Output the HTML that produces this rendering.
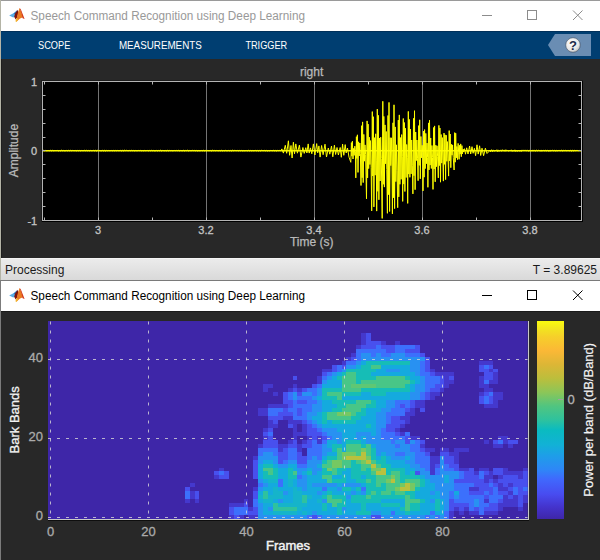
<!DOCTYPE html>
<html><head><meta charset="utf-8"><title>Speech Command Recognition using Deep Learning</title>
<style>
html,body{margin:0;padding:0;background:#282828;}
body{width:600px;height:560px;overflow:hidden;position:relative;font-family:"Liberation Sans", Arial, sans-serif;}
svg{position:absolute;left:0;top:0;display:block;}
text{font-family:"Liberation Sans", Arial, sans-serif;}
</style></head><body>
<svg width="600" height="560" viewBox="0 0 600 560">

<rect x="0" y="0" width="600" height="560" fill="#282828"/>
<rect x="0" y="0" width="600" height="1" fill="#9a9a9a"/>
<rect x="1" y="1" width="599" height="30" fill="#ffffff"/>
<polygon points="9.2,15.6 12.5,13.8 15.5,12.3 15.3,16.5 13.2,17.5" fill="#58aee6"/><polygon points="13.5,13.6 17.5,9.8 16.6,13.5 15.0,14.6" fill="#2a78c0"/><polygon points="14.2,16.8 15.0,13.8 17.6,10.0 18.6,12.5 17.2,17.5 15.6,19.6" fill="#7c1410"/><polygon points="19.6,8.1 21.5,12.5 23.0,17.2 20.0,18.5 16.4,21.7 17.0,16.5 18.3,11.5" fill="#e97a22"/><polygon points="15.4,21.2 16.4,18.0 18.2,19.3 16.6,22.0" fill="#f3b52c"/><polygon points="19.6,8.1 20.8,9.2 24.6,19.0 22.6,18.2 21.5,13.5" fill="#d3381b"/>
<text x="30.5" y="19.8" font-size="12" fill="#999999" textLength="274.5" lengthAdjust="spacingAndGlyphs">Speech Command Recognition using Deep Learning</text>
<g stroke="#8c8c8c" stroke-width="1" fill="none"><path d="M482 15.5H492"/><rect x="527.5" y="10.5" width="9" height="9"/><path d="M573 10.5L582.5 20M582.5 10.5L573 20"/></g>
<rect x="1" y="31" width="599" height="28" fill="#003e71"/>
<rect x="1" y="31" width="599" height="1" fill="#00305a"/>
<g fill="#ffffff" font-size="11"><text x="38" y="49.2" textLength="32.3" lengthAdjust="spacingAndGlyphs">SCOPE</text><text x="118.9" y="49.2" textLength="82.9" lengthAdjust="spacingAndGlyphs">MEASUREMENTS</text><text x="245.4" y="49.2" textLength="41.8" lengthAdjust="spacingAndGlyphs">TRIGGER</text></g>
<polygon points="548,45 555,34 591,34 591,56 555,56" fill="#6a8db3"/>
<defs><radialGradient id="hg" cx="0.4" cy="0.35" r="0.7"><stop offset="0" stop-color="#ffffff"/><stop offset="0.7" stop-color="#e6e6e6"/><stop offset="1" stop-color="#b8b8b8"/></radialGradient></defs>
<circle cx="573" cy="45" r="7.3" fill="url(#hg)" stroke="#3a4a60" stroke-width="0.6"/>
<text x="573" y="49.8" font-size="13" font-weight="bold" fill="#1c2b4a" text-anchor="middle">?</text>
<rect x="1" y="59" width="599" height="199" fill="#282828"/>
<rect x="41" y="80" width="542" height="142" fill="#1c1c1c"/>
<rect x="42" y="81" width="541" height="141" fill="#000000"/>
<g stroke="#747474" stroke-width="1"><path d="M98.5 82V220"/><path d="M206.5 82V220"/><path d="M314.5 82V220"/><path d="M422.5 82V220"/><path d="M530.5 82V220"/></g>
<path d="M42.5 150.7H581" stroke="#f0f000" stroke-width="1.4"/>
<path d="M42.5,150.7 43.4,150.3 44.3,150.8 45.2,150.3 46.1,151.0 47.0,150.3 47.9,150.9 48.8,150.5 49.7,150.8 50.6,150.3 51.5,150.9 52.4,150.3 53.3,150.8 54.2,150.5 55.1,150.8 56.0,150.2 56.9,150.8 57.8,150.4 58.7,151.0 59.6,150.5 60.5,150.9 61.4,150.2 62.3,150.8 63.2,150.3 64.1,151.0 65.0,150.4 65.9,150.9 66.8,150.3 67.7,150.9 68.6,150.3 69.5,150.8 70.4,150.3 71.3,150.8 72.2,150.3 73.1,150.8 74.0,150.2 74.9,150.9 75.8,150.4 76.7,150.9 77.6,150.4 78.5,150.8 79.4,150.4 80.3,150.9 81.2,150.4 82.1,150.8 83.0,150.3 83.9,150.8 84.8,150.2 85.7,150.8 86.6,150.3 87.5,150.8 88.4,150.4 89.3,150.9 90.2,150.3 91.1,150.8 92.0,150.5 92.9,150.7 93.8,150.3 94.7,150.9 95.6,150.3 96.5,151.0 97.4,150.3 98.3,150.7 99.2,150.4 100.1,150.9 101.0,150.4 101.9,151.0 102.8,150.2 103.7,151.0 104.6,150.3 105.5,151.0 106.4,150.4 107.3,150.8 108.2,150.4 109.1,150.9 110.0,150.3 110.9,150.8 111.8,150.4 112.7,150.8 113.6,150.4 114.5,150.8 115.4,150.4 116.3,150.8 117.2,150.3 118.1,150.9 119.0,150.3 119.9,150.8 120.8,150.3 121.7,151.0 122.6,150.3 123.5,150.9 124.4,150.2 125.3,150.7 126.2,150.2 127.1,150.8 128.0,150.3 128.9,150.9 129.8,150.3 130.7,150.8 131.6,150.3 132.5,150.7 133.4,150.4 134.3,150.9 135.2,150.4 136.1,150.9 137.0,150.3 137.9,150.9 138.8,150.3 139.7,150.7 140.6,150.4 141.5,150.8 142.4,150.5 143.3,150.9 144.2,150.3 145.1,151.0 146.0,150.2 146.9,150.8 147.8,150.4 148.7,150.9 149.6,150.4 150.5,150.8 151.4,150.3 152.3,150.8 153.2,150.3 154.1,151.0 155.0,150.5 155.9,150.9 156.8,150.3 157.7,151.0 158.6,150.4 159.5,150.8 160.4,150.2 161.3,151.0 162.2,150.4 163.1,150.8 164.0,150.3 164.9,151.0 165.8,150.4 166.7,150.9 167.6,150.3 168.5,150.9 169.4,150.4 170.3,150.7 171.2,150.4 172.1,150.9 173.0,150.5 173.9,150.7 174.8,150.4 175.7,150.7 176.6,150.4 177.5,150.7 178.4,150.3 179.3,150.9 180.2,150.4 181.1,150.8 182.0,150.4 182.9,150.9 183.8,150.2 184.7,151.0 185.6,150.4 186.5,150.7 187.4,150.2 188.3,151.0 189.2,150.4 190.1,150.9 191.0,150.2 191.9,150.9 192.8,150.2 193.7,150.7 194.6,150.4 195.5,150.8 196.4,150.4 197.3,151.0 198.2,150.5 199.1,150.9 200.0,150.5 200.9,150.8 201.8,150.4 202.7,150.8 203.6,150.3 204.5,150.9 205.4,150.4 206.3,150.9 207.2,150.4 208.1,150.8 209.0,150.4 209.9,150.8 210.8,150.4 211.7,151.0 212.6,150.2 213.5,150.7 214.4,150.4 215.3,150.8 216.2,150.4 217.1,150.8 218.0,150.3 218.9,151.0 219.8,150.4 220.7,150.9 221.6,150.3 222.5,150.9 223.4,150.5 224.3,150.9 225.2,150.2 226.1,150.9 227.0,150.4 227.9,150.9 228.8,150.3 229.7,150.9 230.6,150.4 231.5,151.0 232.4,150.2 233.3,150.8 234.2,150.3 235.1,150.7 236.0,150.2 236.9,150.9 237.8,150.3 238.7,150.9 239.6,150.4 240.5,150.8 241.4,150.4 242.3,150.9 243.2,150.5 244.1,151.0 245.0,150.4 245.9,150.8 246.8,150.5 247.7,150.9 248.6,150.3 249.5,150.9 250.4,150.4 251.3,150.9 252.2,150.4 253.1,151.0 254.0,150.3 254.9,150.8 255.8,150.3 256.7,150.9 257.6,150.4 258.5,151.0 259.4,150.4 260.3,151.0 261.2,150.2 262.1,150.7 263.0,150.3 263.9,150.8 264.8,150.3 265.7,150.9 266.6,150.4 267.5,151.0 268.4,150.5 269.3,150.9 270.2,150.4 271.1,150.7 272.0,150.3 272.9,150.9 273.8,150.2 274.7,150.9 275.6,150.4 276.5,151.0 277.4,150.4 278.3,150.7 279.2,150.3 280.1,150.8 281.0,150.4 281.9,148.9 283.4,153.1 285.3,145.3 286.7,153.3 288.4,140.8 289.6,155.3 291.0,145.5 292.1,158.0 293.4,142.2 294.5,153.8 295.8,143.9 297.4,153.2 299.4,145.1 300.9,157.1 302.9,147.5 304.2,153.4 305.8,147.7 306.9,153.0 308.2,143.9 309.2,153.1 310.5,147.9 311.8,153.8 313.4,143.9 314.9,155.0 316.7,143.6 317.7,152.9 318.9,145.9 320.1,157.1 321.6,145.5 323.1,154.7 325.0,144.2 326.5,157.0 328.3,148.0 329.8,154.2 331.5,146.0 332.8,156.8 334.4,145.2 335.6,154.5 337.0,147.5 338.4,155.0 340.2,147.5 341.3,157.3 342.6,144.1 343.8,155.3 345.2,144.6 346.2,153.0 347.5,148.0 349.0,157.1 350.8,162.3 351.4,142.6 351.9,156.2 352.4,141.2 353.0,159.0 353.6,148.4 354.2,155.4 354.8,146.2 355.4,151.7 355.8,177.9 356.4,136.7 356.9,158.4 357.4,134.8 358.0,172.4 358.6,141.8 359.2,156.0 359.8,143.0 360.4,153.8 361.0,185.5 361.6,125.7 362.1,177.7 362.6,121.9 363.2,182.6 363.8,134.4 364.4,161.2 365.0,144.9 365.6,154.7 366.5,198.8 367.1,120.9 367.6,177.9 368.1,124.1 368.7,168.6 369.3,137.2 369.9,164.5 370.5,140.6 371.1,167.4 371.7,210.9 372.3,111.6 372.8,176.0 373.3,116.7 373.9,206.9 374.5,137.7 375.1,175.2 375.7,133.8 376.3,160.1 376.7,211.1 377.3,109.1 377.8,191.3 378.3,115.3 378.9,199.8 379.5,138.0 380.1,181.0 380.7,137.2 381.3,158.5 382.2,218.4 382.8,101.3 383.3,184.3 383.8,116.4 384.4,187.1 385.0,124.9 385.6,163.8 386.2,131.5 386.8,169.6 387.4,213.3 388.0,115.5 388.5,194.6 389.0,102.4 389.6,211.5 390.2,137.7 390.8,165.6 391.4,137.8 392.0,164.2 392.4,213.9 393.0,122.8 393.5,197.7 394.0,104.8 394.6,208.6 395.2,126.9 395.8,181.6 396.4,144.8 397.0,170.4 397.7,207.7 398.3,120.1 398.8,196.9 399.3,114.9 399.9,184.3 400.5,137.6 401.1,179.3 401.7,134.6 402.3,156.4 402.7,201.4 403.3,118.5 403.8,184.1 404.3,122.5 404.9,191.5 405.5,128.3 406.1,177.5 406.7,144.5 407.3,157.4 407.7,203.4 408.3,111.4 408.8,174.1 409.3,119.4 409.9,177.3 410.5,129.1 411.1,173.9 411.7,140.0 412.3,165.2 412.9,193.9 413.5,118.4 414.0,175.7 414.5,110.7 415.1,189.7 415.7,132.0 416.3,160.6 416.9,140.0 417.5,158.2 418.1,180.7 418.7,125.6 419.2,165.4 419.7,119.8 420.3,178.8 420.9,136.5 421.5,157.8 422.1,145.3 422.7,152.9 423.0,190.9 423.6,131.1 424.1,177.2 424.6,129.6 425.2,168.6 425.8,133.4 426.4,163.7 427.0,143.1 427.6,157.4 427.9,187.3 428.5,122.9 429.0,169.9 429.5,120.2 430.1,165.1 430.7,138.0 431.3,168.5 431.9,145.5 432.5,157.6 433.0,189.4 433.6,127.5 434.1,169.0 434.6,125.9 435.2,181.8 435.8,145.2 436.4,166.7 437.0,145.8 437.6,156.3 438.3,177.9 438.9,125.4 439.4,165.6 439.9,128.0 440.5,182.2 441.1,134.5 441.7,163.1 442.3,137.6 442.9,160.8 443.4,181.1 444.0,133.1 444.5,164.3 445.0,134.8 445.6,179.6 446.2,135.2 446.8,161.3 447.4,141.6 448.0,158.1 448.6,176.1 449.2,130.6 449.7,160.9 450.2,134.0 450.8,167.7 451.4,144.3 452.0,155.2 452.6,144.9 453.2,157.5 454.1,170.0 454.7,132.6 455.2,162.2 455.7,133.2 456.3,157.9 456.9,146.5 457.5,159.6 458.1,143.4 458.7,152.1 459.1,159.3 459.7,145.2 460.2,154.1 460.7,143.9 461.3,156.7 461.9,145.6 462.5,153.9 463.1,149.1 463.7,152.0 464.5,148.7 465.5,154.2 466.7,147.8 468.0,154.0 469.6,146.0 470.7,154.0 472.0,146.7 473.1,153.3 474.4,148.3 475.6,155.7 477.0,144.8 478.2,154.1 479.6,145.8 480.7,155.5 482.0,148.2 483.6,155.7 485.4,148.2 487.0,153.5 488.8,151.6 489.7,150.0 490.6,151.7 491.5,149.7 492.4,151.6 493.3,149.9 494.2,151.4 495.1,150.1 496.0,151.2 496.9,149.7 497.8,151.7 498.7,150.2 499.6,151.0 500.5,150.2 501.4,151.3 502.3,149.7 503.2,151.1 504.1,149.9 505.0,151.3 505.9,149.7 506.8,151.0 507.7,150.3 508.6,151.3 509.5,150.1 510.4,151.1 511.3,149.8 512.2,151.4 513.1,150.3 514.0,151.3 514.9,149.8 515.8,151.5 516.7,150.3 517.6,151.4 518.5,150.3 519.4,151.3 520.3,150.0 521.2,151.5 522.1,149.9 523.0,150.9 523.9,149.9 524.8,151.0 525.7,149.9 526.6,150.9 527.5,150.2 528.4,151.2 529.3,150.3 530.2,151.2 531.1,150.0 532.0,151.2 532.9,149.9 533.8,151.1 534.7,150.3 535.6,151.0 536.5,150.2 537.4,150.9 538.3,150.0 539.2,150.9 540.1,150.3 541.0,151.3 541.9,150.0 542.8,150.9 543.7,150.2 544.6,151.2 545.5,150.1 546.4,150.9 547.3,150.2 548.2,151.2 549.1,150.4 550.0,151.3 550.9,150.1 551.8,150.9 552.7,150.0 553.6,150.8 554.5,150.2 555.4,151.1 556.3,150.3 557.2,151.2 558.1,150.1 559.0,150.9 559.9,150.3 560.8,150.8 561.7,150.2 562.6,150.9 563.5,150.2 564.4,151.1 565.3,150.1 566.2,150.8 567.1,150.3 568.0,150.9 568.9,150.3 569.8,150.9 570.7,150.3 571.6,151.1 572.5,150.3 573.4,150.9 574.3,150.3 575.2,150.8 576.1,150.2 577.0,150.9 577.9,150.1 578.8,151.0 579.7,150.4 580.6,150.8" fill="none" stroke="#ffff00" stroke-width="1" stroke-linejoin="round"/>
<rect x="42.5" y="81.5" width="539" height="139" fill="none" stroke="#b4b4b4" stroke-width="1"/>
<path d="M44.5 81.5V84.5M44.5 220.5V217.5M98.5 81.5V84.5M98.5 220.5V217.5M152.5 81.5V84.5M152.5 220.5V217.5M206.5 81.5V84.5M206.5 220.5V217.5M260.5 81.5V84.5M260.5 220.5V217.5M314.5 81.5V84.5M314.5 220.5V217.5M368.5 81.5V84.5M368.5 220.5V217.5M422.5 81.5V84.5M422.5 220.5V217.5M476.5 81.5V84.5M476.5 220.5V217.5M530.5 81.5V84.5M530.5 220.5V217.5M42.5 81.5H45.5M581.5 81.5H578.5M42.5 95.5H45.5M581.5 95.5H578.5M42.5 109.5H45.5M581.5 109.5H578.5M42.5 123.5H45.5M581.5 123.5H578.5M42.5 137.5H45.5M581.5 137.5H578.5M42.5 150.5H45.5M581.5 150.5H578.5M42.5 164.5H45.5M581.5 164.5H578.5M42.5 178.5H45.5M581.5 178.5H578.5M42.5 192.5H45.5M581.5 192.5H578.5M42.5 206.5H45.5M581.5 206.5H578.5M42.5 220.5H45.5M581.5 220.5H578.5" stroke="#b4b4b4" stroke-width="1" fill="none"/>
<g fill="#c4c4c4" font-size="11" stroke="#c4c4c4" stroke-width="0.3"><text x="37.2" y="85.5" text-anchor="end">1</text><text x="37.2" y="155" text-anchor="end">0</text><text x="37.2" y="224.5" text-anchor="end">-1</text><text x="98" y="234.2" text-anchor="middle">3</text><text x="206" y="234.2" text-anchor="middle">3.2</text><text x="314" y="234.2" text-anchor="middle">3.4</text><text x="422" y="234.2" text-anchor="middle">3.6</text><text x="530" y="234.2" text-anchor="middle">3.8</text></g>
<text x="311.7" y="246.3" font-size="12" fill="#bababa" stroke="#bababa" stroke-width="0.25" text-anchor="middle">Time (s)</text>
<text x="311.6" y="75.5" font-size="12" fill="#bababa" stroke="#bababa" stroke-width="0.25" text-anchor="middle">right</text>
<text transform="translate(17.8,150.6) rotate(-90)" font-size="12" fill="#bababa" stroke="#bababa" stroke-width="0.25" text-anchor="middle">Amplitude</text>
<defs><linearGradient id="sb" x1="0" y1="0" x2="0" y2="1"><stop offset="0" stop-color="#ececec"/><stop offset="1" stop-color="#d9d9d9"/></linearGradient></defs>
<rect x="1" y="258" width="599" height="22" fill="url(#sb)"/>
<rect x="1" y="258" width="599" height="1" fill="#f4f4f4"/>
<rect x="1" y="280" width="599" height="1" fill="#7a7a7a"/>
<text x="5" y="274" font-size="12" fill="#1a1a1a">Processing</text>
<text x="597" y="274" font-size="12" fill="#1a1a1a" text-anchor="end">T = 3.89625</text>
<rect x="1" y="281" width="599" height="30" fill="#ffffff"/>
<polygon points="9.2,295.6 12.5,293.8 15.5,292.3 15.3,296.5 13.2,297.5" fill="#58aee6"/><polygon points="13.5,293.6 17.5,289.8 16.6,293.5 15.0,294.6" fill="#2a78c0"/><polygon points="14.2,296.8 15.0,293.8 17.6,290.0 18.6,292.5 17.2,297.5 15.6,299.6" fill="#7c1410"/><polygon points="19.6,288.1 21.5,292.5 23.0,297.2 20.0,298.5 16.4,301.7 17.0,296.5 18.3,291.5" fill="#e97a22"/><polygon points="15.4,301.2 16.4,298.0 18.2,299.3 16.6,302.0" fill="#f3b52c"/><polygon points="19.6,288.1 20.8,289.2 24.6,299.0 22.6,298.2 21.5,293.5" fill="#d3381b"/>
<text x="30.5" y="299.8" font-size="12" fill="#000000" textLength="274.5" lengthAdjust="spacingAndGlyphs">Speech Command Recognition using Deep Learning</text>
<g stroke="#000000" stroke-width="1" fill="none"><path d="M482 295.5H492"/><rect x="527.5" y="290.5" width="9" height="9"/><path d="M573 290.5L582.5 300M582.5 290.5L573 300"/></g>
<rect x="1" y="311" width="599" height="1" fill="#1a1a1a"/>
<svg x="47.55" y="321" width="480.2" height="198" viewBox="0 0 98 50" preserveAspectRatio="none" shape-rendering="crispEdges"><rect x="0" y="0" width="98" height="50" fill="#3e26a8"/><rect x="37" y="49" width="1" height="1" fill="#4438cd"/><rect x="38" y="49" width="1" height="1" fill="#4850ee"/><rect x="39" y="49" width="1" height="1" fill="#4438cd"/><rect x="41" y="49" width="2" height="1" fill="#4438cd"/><rect x="43" y="49" width="10" height="1" fill="#2891f2"/><rect x="53" y="49" width="1" height="1" fill="#3c70fc"/><rect x="54" y="49" width="1" height="1" fill="#4850ee"/><rect x="55" y="49" width="1" height="1" fill="#3c70fc"/><rect x="56" y="49" width="10" height="1" fill="#2891f2"/><rect x="66" y="49" width="2" height="1" fill="#4850ee"/><rect x="68" y="49" width="9" height="1" fill="#2891f2"/><rect x="77" y="49" width="1" height="1" fill="#3c70fc"/><rect x="78" y="49" width="1" height="1" fill="#2891f2"/><rect x="79" y="49" width="1" height="1" fill="#3c70fc"/><rect x="80" y="49" width="1" height="1" fill="#2891f2"/><rect x="81" y="49" width="1" height="1" fill="#3c70fc"/><rect x="82" y="49" width="1" height="1" fill="#4438cd"/><rect x="37" y="48" width="1" height="1" fill="#4850ee"/><rect x="38" y="48" width="3" height="1" fill="#3c70fc"/><rect x="41" y="48" width="2" height="1" fill="#4850ee"/><rect x="43" y="48" width="1" height="1" fill="#2891f2"/><rect x="44" y="48" width="2" height="1" fill="#14aade"/><rect x="46" y="48" width="5" height="1" fill="#15b4ca"/><rect x="51" y="48" width="1" height="1" fill="#14aade"/><rect x="52" y="48" width="1" height="1" fill="#15b4ca"/><rect x="53" y="48" width="1" height="1" fill="#14aade"/><rect x="54" y="48" width="1" height="1" fill="#2891f2"/><rect x="55" y="48" width="4" height="1" fill="#14aade"/><rect x="59" y="48" width="1" height="1" fill="#16bdb6"/><rect x="60" y="48" width="3" height="1" fill="#14aade"/><rect x="63" y="48" width="3" height="1" fill="#16bdb6"/><rect x="66" y="48" width="2" height="1" fill="#2891f2"/><rect x="68" y="48" width="2" height="1" fill="#14aade"/><rect x="70" y="48" width="1" height="1" fill="#3c70fc"/><rect x="71" y="48" width="2" height="1" fill="#14aade"/><rect x="73" y="48" width="1" height="1" fill="#16bdb6"/><rect x="74" y="48" width="4" height="1" fill="#14aade"/><rect x="78" y="48" width="1" height="1" fill="#3c70fc"/><rect x="79" y="48" width="2" height="1" fill="#14aade"/><rect x="81" y="48" width="1" height="1" fill="#3c70fc"/><rect x="82" y="48" width="1" height="1" fill="#4438cd"/><rect x="84" y="48" width="1" height="1" fill="#4438cd"/><rect x="86" y="48" width="2" height="1" fill="#4438cd"/><rect x="88" y="48" width="1" height="1" fill="#3c70fc"/><rect x="89" y="48" width="3" height="1" fill="#4438cd"/><rect x="37" y="47" width="1" height="1" fill="#4850ee"/><rect x="38" y="47" width="3" height="1" fill="#3c70fc"/><rect x="41" y="47" width="1" height="1" fill="#4438cd"/><rect x="42" y="47" width="1" height="1" fill="#4850ee"/><rect x="43" y="47" width="1" height="1" fill="#2891f2"/><rect x="44" y="47" width="1" height="1" fill="#14aade"/><rect x="45" y="47" width="1" height="1" fill="#2891f2"/><rect x="46" y="47" width="5" height="1" fill="#2fc29e"/><rect x="51" y="47" width="1" height="1" fill="#15b4ca"/><rect x="52" y="47" width="4" height="1" fill="#14aade"/><rect x="56" y="47" width="1" height="1" fill="#16bdb6"/><rect x="57" y="47" width="2" height="1" fill="#14aade"/><rect x="59" y="47" width="1" height="1" fill="#16bdb6"/><rect x="60" y="47" width="1" height="1" fill="#2891f2"/><rect x="61" y="47" width="3" height="1" fill="#14aade"/><rect x="64" y="47" width="1" height="1" fill="#16bdb6"/><rect x="65" y="47" width="7" height="1" fill="#14aade"/><rect x="72" y="47" width="1" height="1" fill="#16bdb6"/><rect x="73" y="47" width="1" height="1" fill="#48c687"/><rect x="74" y="47" width="2" height="1" fill="#16bdb6"/><rect x="76" y="47" width="3" height="1" fill="#14aade"/><rect x="79" y="47" width="1" height="1" fill="#16bdb6"/><rect x="80" y="47" width="1" height="1" fill="#14aade"/><rect x="81" y="47" width="1" height="1" fill="#2891f2"/><rect x="82" y="47" width="1" height="1" fill="#4850ee"/><rect x="83" y="47" width="1" height="1" fill="#4438cd"/><rect x="84" y="47" width="1" height="1" fill="#4850ee"/><rect x="85" y="47" width="1" height="1" fill="#4438cd"/><rect x="86" y="47" width="1" height="1" fill="#3c70fc"/><rect x="87" y="47" width="1" height="1" fill="#4850ee"/><rect x="88" y="47" width="1" height="1" fill="#3c70fc"/><rect x="89" y="47" width="3" height="1" fill="#4850ee"/><rect x="92" y="47" width="1" height="1" fill="#4438cd"/><rect x="96" y="47" width="1" height="1" fill="#4438cd"/><rect x="37" y="46" width="3" height="1" fill="#4438cd"/><rect x="40" y="46" width="1" height="1" fill="#4850ee"/><rect x="42" y="46" width="1" height="1" fill="#3c70fc"/><rect x="43" y="46" width="1" height="1" fill="#2891f2"/><rect x="44" y="46" width="2" height="1" fill="#14aade"/><rect x="46" y="46" width="1" height="1" fill="#2fc29e"/><rect x="47" y="46" width="6" height="1" fill="#15b4ca"/><rect x="53" y="46" width="3" height="1" fill="#14aade"/><rect x="56" y="46" width="1" height="1" fill="#16bdb6"/><rect x="57" y="46" width="1" height="1" fill="#14aade"/><rect x="58" y="46" width="1" height="1" fill="#48c687"/><rect x="59" y="46" width="2" height="1" fill="#16bdb6"/><rect x="61" y="46" width="3" height="1" fill="#14aade"/><rect x="64" y="46" width="1" height="1" fill="#16bdb6"/><rect x="65" y="46" width="3" height="1" fill="#14aade"/><rect x="68" y="46" width="4" height="1" fill="#16bdb6"/><rect x="72" y="46" width="1" height="1" fill="#14aade"/><rect x="73" y="46" width="1" height="1" fill="#48c687"/><rect x="74" y="46" width="2" height="1" fill="#16bdb6"/><rect x="76" y="46" width="3" height="1" fill="#14aade"/><rect x="79" y="46" width="1" height="1" fill="#16bdb6"/><rect x="80" y="46" width="1" height="1" fill="#14aade"/><rect x="81" y="46" width="1" height="1" fill="#2891f2"/><rect x="82" y="46" width="4" height="1" fill="#4850ee"/><rect x="86" y="46" width="1" height="1" fill="#3c70fc"/><rect x="87" y="46" width="1" height="1" fill="#2891f2"/><rect x="88" y="46" width="2" height="1" fill="#3c70fc"/><rect x="90" y="46" width="2" height="1" fill="#4850ee"/><rect x="92" y="46" width="4" height="1" fill="#4438cd"/><rect x="96" y="46" width="1" height="1" fill="#4850ee"/><rect x="28" y="45" width="1" height="1" fill="#4438cd"/><rect x="30" y="45" width="1" height="1" fill="#4438cd"/><rect x="40" y="45" width="1" height="1" fill="#4438cd"/><rect x="42" y="45" width="1" height="1" fill="#3c70fc"/><rect x="43" y="45" width="1" height="1" fill="#14aade"/><rect x="44" y="45" width="2" height="1" fill="#15b4ca"/><rect x="46" y="45" width="1" height="1" fill="#14aade"/><rect x="47" y="45" width="1" height="1" fill="#2891f2"/><rect x="48" y="45" width="2" height="1" fill="#14aade"/><rect x="50" y="45" width="2" height="1" fill="#15b4ca"/><rect x="52" y="45" width="1" height="1" fill="#2fc29e"/><rect x="53" y="45" width="2" height="1" fill="#14aade"/><rect x="55" y="45" width="1" height="1" fill="#15b4ca"/><rect x="56" y="45" width="1" height="1" fill="#2891f2"/><rect x="57" y="45" width="3" height="1" fill="#48c687"/><rect x="60" y="45" width="1" height="1" fill="#16bdb6"/><rect x="61" y="45" width="1" height="1" fill="#14aade"/><rect x="62" y="45" width="6" height="1" fill="#16bdb6"/><rect x="68" y="45" width="5" height="1" fill="#14aade"/><rect x="73" y="45" width="3" height="1" fill="#48c687"/><rect x="76" y="45" width="1" height="1" fill="#16bdb6"/><rect x="77" y="45" width="1" height="1" fill="#14aade"/><rect x="78" y="45" width="1" height="1" fill="#2891f2"/><rect x="79" y="45" width="1" height="1" fill="#16bdb6"/><rect x="80" y="45" width="1" height="1" fill="#14aade"/><rect x="81" y="45" width="1" height="1" fill="#2891f2"/><rect x="82" y="45" width="1" height="1" fill="#4850ee"/><rect x="83" y="45" width="4" height="1" fill="#3c70fc"/><rect x="87" y="45" width="1" height="1" fill="#2891f2"/><rect x="88" y="45" width="1" height="1" fill="#3c70fc"/><rect x="89" y="45" width="1" height="1" fill="#4438cd"/><rect x="90" y="45" width="2" height="1" fill="#3c70fc"/><rect x="92" y="45" width="1" height="1" fill="#4850ee"/><rect x="93" y="45" width="3" height="1" fill="#4438cd"/><rect x="96" y="45" width="1" height="1" fill="#4850ee"/><rect x="97" y="45" width="1" height="1" fill="#4438cd"/><rect x="28" y="44" width="1" height="1" fill="#3c70fc"/><rect x="29" y="44" width="1" height="1" fill="#4438cd"/><rect x="30" y="44" width="1" height="1" fill="#4850ee"/><rect x="42" y="44" width="1" height="1" fill="#4850ee"/><rect x="43" y="44" width="1" height="1" fill="#15b4ca"/><rect x="44" y="44" width="1" height="1" fill="#2fc29e"/><rect x="45" y="44" width="3" height="1" fill="#15b4ca"/><rect x="48" y="44" width="2" height="1" fill="#14aade"/><rect x="50" y="44" width="2" height="1" fill="#15b4ca"/><rect x="52" y="44" width="1" height="1" fill="#2fc29e"/><rect x="53" y="44" width="1" height="1" fill="#15b4ca"/><rect x="54" y="44" width="2" height="1" fill="#14aade"/><rect x="56" y="44" width="1" height="1" fill="#16bdb6"/><rect x="57" y="44" width="1" height="1" fill="#48c687"/><rect x="58" y="44" width="3" height="1" fill="#16bdb6"/><rect x="61" y="44" width="1" height="1" fill="#2891f2"/><rect x="62" y="44" width="3" height="1" fill="#16bdb6"/><rect x="65" y="44" width="1" height="1" fill="#48c687"/><rect x="66" y="44" width="7" height="1" fill="#16bdb6"/><rect x="73" y="44" width="1" height="1" fill="#48c687"/><rect x="74" y="44" width="1" height="1" fill="#16bdb6"/><rect x="75" y="44" width="5" height="1" fill="#14aade"/><rect x="80" y="44" width="2" height="1" fill="#2891f2"/><rect x="82" y="44" width="1" height="1" fill="#3c70fc"/><rect x="83" y="44" width="1" height="1" fill="#2891f2"/><rect x="84" y="44" width="5" height="1" fill="#3c70fc"/><rect x="89" y="44" width="1" height="1" fill="#4850ee"/><rect x="90" y="44" width="3" height="1" fill="#3c70fc"/><rect x="93" y="44" width="1" height="1" fill="#4438cd"/><rect x="94" y="44" width="1" height="1" fill="#4850ee"/><rect x="95" y="44" width="1" height="1" fill="#4438cd"/><rect x="96" y="44" width="1" height="1" fill="#4850ee"/><rect x="97" y="44" width="1" height="1" fill="#4438cd"/><rect x="28" y="43" width="1" height="1" fill="#3c70fc"/><rect x="29" y="43" width="1" height="1" fill="#4438cd"/><rect x="30" y="43" width="1" height="1" fill="#4850ee"/><rect x="42" y="43" width="1" height="1" fill="#4850ee"/><rect x="43" y="43" width="1" height="1" fill="#14aade"/><rect x="44" y="43" width="1" height="1" fill="#2fc29e"/><rect x="45" y="43" width="1" height="1" fill="#14aade"/><rect x="46" y="43" width="2" height="1" fill="#15b4ca"/><rect x="48" y="43" width="1" height="1" fill="#2891f2"/><rect x="49" y="43" width="1" height="1" fill="#14aade"/><rect x="50" y="43" width="2" height="1" fill="#15b4ca"/><rect x="52" y="43" width="3" height="1" fill="#14aade"/><rect x="55" y="43" width="1" height="1" fill="#2891f2"/><rect x="56" y="43" width="1" height="1" fill="#14aade"/><rect x="57" y="43" width="1" height="1" fill="#16bdb6"/><rect x="58" y="43" width="4" height="1" fill="#14aade"/><rect x="62" y="43" width="1" height="1" fill="#2891f2"/><rect x="63" y="43" width="1" height="1" fill="#14aade"/><rect x="64" y="43" width="1" height="1" fill="#2891f2"/><rect x="65" y="43" width="1" height="1" fill="#16bdb6"/><rect x="66" y="43" width="1" height="1" fill="#48c687"/><rect x="67" y="43" width="1" height="1" fill="#16bdb6"/><rect x="68" y="43" width="2" height="1" fill="#48c687"/><rect x="70" y="43" width="1" height="1" fill="#16bdb6"/><rect x="71" y="43" width="2" height="1" fill="#48c687"/><rect x="73" y="43" width="2" height="1" fill="#16bdb6"/><rect x="75" y="43" width="3" height="1" fill="#14aade"/><rect x="78" y="43" width="1" height="1" fill="#2891f2"/><rect x="79" y="43" width="1" height="1" fill="#14aade"/><rect x="80" y="43" width="2" height="1" fill="#2891f2"/><rect x="82" y="43" width="1" height="1" fill="#3c70fc"/><rect x="83" y="43" width="1" height="1" fill="#14aade"/><rect x="84" y="43" width="2" height="1" fill="#3c70fc"/><rect x="86" y="43" width="3" height="1" fill="#4850ee"/><rect x="89" y="43" width="1" height="1" fill="#3c70fc"/><rect x="90" y="43" width="1" height="1" fill="#4850ee"/><rect x="91" y="43" width="1" height="1" fill="#3c70fc"/><rect x="92" y="43" width="2" height="1" fill="#4850ee"/><rect x="94" y="43" width="1" height="1" fill="#4438cd"/><rect x="95" y="43" width="1" height="1" fill="#3c70fc"/><rect x="96" y="43" width="2" height="1" fill="#4850ee"/><rect x="28" y="42" width="1" height="1" fill="#4850ee"/><rect x="42" y="42" width="1" height="1" fill="#4438cd"/><rect x="43" y="42" width="1" height="1" fill="#2891f2"/><rect x="44" y="42" width="2" height="1" fill="#14aade"/><rect x="46" y="42" width="1" height="1" fill="#15b4ca"/><rect x="47" y="42" width="3" height="1" fill="#14aade"/><rect x="50" y="42" width="1" height="1" fill="#15b4ca"/><rect x="51" y="42" width="1" height="1" fill="#14aade"/><rect x="52" y="42" width="1" height="1" fill="#2891f2"/><rect x="53" y="42" width="3" height="1" fill="#14aade"/><rect x="56" y="42" width="1" height="1" fill="#3c70fc"/><rect x="57" y="42" width="2" height="1" fill="#14aade"/><rect x="59" y="42" width="1" height="1" fill="#2891f2"/><rect x="60" y="42" width="2" height="1" fill="#16bdb6"/><rect x="62" y="42" width="1" height="1" fill="#14aade"/><rect x="63" y="42" width="1" height="1" fill="#16bdb6"/><rect x="64" y="42" width="1" height="1" fill="#3c70fc"/><rect x="65" y="42" width="4" height="1" fill="#16bdb6"/><rect x="69" y="42" width="2" height="1" fill="#48c687"/><rect x="71" y="42" width="1" height="1" fill="#76c862"/><rect x="72" y="42" width="2" height="1" fill="#b9c13e"/><rect x="74" y="42" width="1" height="1" fill="#76c862"/><rect x="75" y="42" width="1" height="1" fill="#16bdb6"/><rect x="76" y="42" width="3" height="1" fill="#14aade"/><rect x="79" y="42" width="4" height="1" fill="#2891f2"/><rect x="83" y="42" width="3" height="1" fill="#3c70fc"/><rect x="86" y="42" width="2" height="1" fill="#4438cd"/><rect x="88" y="42" width="3" height="1" fill="#4850ee"/><rect x="91" y="42" width="1" height="1" fill="#3c70fc"/><rect x="92" y="42" width="2" height="1" fill="#4438cd"/><rect x="94" y="42" width="1" height="1" fill="#4850ee"/><rect x="95" y="42" width="1" height="1" fill="#3c70fc"/><rect x="96" y="42" width="1" height="1" fill="#4850ee"/><rect x="97" y="42" width="1" height="1" fill="#3c70fc"/><rect x="29" y="41" width="1" height="1" fill="#4438cd"/><rect x="43" y="41" width="1" height="1" fill="#3c70fc"/><rect x="44" y="41" width="1" height="1" fill="#2891f2"/><rect x="45" y="41" width="2" height="1" fill="#14aade"/><rect x="47" y="41" width="1" height="1" fill="#3c70fc"/><rect x="48" y="41" width="1" height="1" fill="#14aade"/><rect x="49" y="41" width="1" height="1" fill="#15b4ca"/><rect x="50" y="41" width="1" height="1" fill="#14aade"/><rect x="51" y="41" width="2" height="1" fill="#2891f2"/><rect x="53" y="41" width="1" height="1" fill="#14aade"/><rect x="54" y="41" width="5" height="1" fill="#2891f2"/><rect x="59" y="41" width="1" height="1" fill="#14aade"/><rect x="60" y="41" width="4" height="1" fill="#2891f2"/><rect x="64" y="41" width="1" height="1" fill="#14aade"/><rect x="65" y="41" width="2" height="1" fill="#16bdb6"/><rect x="67" y="41" width="1" height="1" fill="#48c687"/><rect x="68" y="41" width="1" height="1" fill="#16bdb6"/><rect x="69" y="41" width="3" height="1" fill="#48c687"/><rect x="72" y="41" width="1" height="1" fill="#76c862"/><rect x="73" y="41" width="1" height="1" fill="#b9c13e"/><rect x="74" y="41" width="1" height="1" fill="#76c862"/><rect x="75" y="41" width="1" height="1" fill="#48c687"/><rect x="76" y="41" width="1" height="1" fill="#16bdb6"/><rect x="77" y="41" width="2" height="1" fill="#14aade"/><rect x="79" y="41" width="4" height="1" fill="#2891f2"/><rect x="83" y="41" width="4" height="1" fill="#3c70fc"/><rect x="87" y="41" width="3" height="1" fill="#4850ee"/><rect x="90" y="41" width="1" height="1" fill="#3c70fc"/><rect x="91" y="41" width="1" height="1" fill="#4850ee"/><rect x="92" y="41" width="1" height="1" fill="#4438cd"/><rect x="93" y="41" width="1" height="1" fill="#4850ee"/><rect x="94" y="41" width="1" height="1" fill="#4438cd"/><rect x="95" y="41" width="3" height="1" fill="#4850ee"/><rect x="43" y="40" width="1" height="1" fill="#2891f2"/><rect x="44" y="40" width="1" height="1" fill="#14aade"/><rect x="45" y="40" width="2" height="1" fill="#15b4ca"/><rect x="47" y="40" width="1" height="1" fill="#3c70fc"/><rect x="48" y="40" width="1" height="1" fill="#14aade"/><rect x="49" y="40" width="1" height="1" fill="#15b4ca"/><rect x="50" y="40" width="1" height="1" fill="#14aade"/><rect x="51" y="40" width="2" height="1" fill="#2891f2"/><rect x="53" y="40" width="4" height="1" fill="#14aade"/><rect x="57" y="40" width="1" height="1" fill="#48c687"/><rect x="58" y="40" width="3" height="1" fill="#16bdb6"/><rect x="61" y="40" width="2" height="1" fill="#14aade"/><rect x="63" y="40" width="2" height="1" fill="#16bdb6"/><rect x="65" y="40" width="1" height="1" fill="#48c687"/><rect x="66" y="40" width="1" height="1" fill="#16bdb6"/><rect x="67" y="40" width="2" height="1" fill="#48c687"/><rect x="69" y="40" width="1" height="1" fill="#76c862"/><rect x="70" y="40" width="1" height="1" fill="#b9c13e"/><rect x="71" y="40" width="1" height="1" fill="#48c687"/><rect x="72" y="40" width="1" height="1" fill="#16bdb6"/><rect x="73" y="40" width="3" height="1" fill="#48c687"/><rect x="76" y="40" width="1" height="1" fill="#16bdb6"/><rect x="77" y="40" width="1" height="1" fill="#14aade"/><rect x="78" y="40" width="3" height="1" fill="#2891f2"/><rect x="81" y="40" width="1" height="1" fill="#14aade"/><rect x="82" y="40" width="1" height="1" fill="#2891f2"/><rect x="83" y="40" width="6" height="1" fill="#4850ee"/><rect x="89" y="40" width="1" height="1" fill="#4438cd"/><rect x="90" y="40" width="1" height="1" fill="#4850ee"/><rect x="91" y="40" width="1" height="1" fill="#4438cd"/><rect x="92" y="40" width="6" height="1" fill="#4850ee"/><rect x="34" y="39" width="1" height="1" fill="#4438cd"/><rect x="35" y="39" width="2" height="1" fill="#4850ee"/><rect x="42" y="39" width="1" height="1" fill="#4850ee"/><rect x="43" y="39" width="1" height="1" fill="#14aade"/><rect x="44" y="39" width="3" height="1" fill="#16bdb6"/><rect x="47" y="39" width="2" height="1" fill="#14aade"/><rect x="49" y="39" width="2" height="1" fill="#16bdb6"/><rect x="51" y="39" width="1" height="1" fill="#3c70fc"/><rect x="52" y="39" width="1" height="1" fill="#2891f2"/><rect x="53" y="39" width="3" height="1" fill="#14aade"/><rect x="56" y="39" width="2" height="1" fill="#48c687"/><rect x="58" y="39" width="2" height="1" fill="#14aade"/><rect x="60" y="39" width="1" height="1" fill="#16bdb6"/><rect x="61" y="39" width="1" height="1" fill="#14aade"/><rect x="62" y="39" width="2" height="1" fill="#16bdb6"/><rect x="64" y="39" width="1" height="1" fill="#14aade"/><rect x="65" y="39" width="2" height="1" fill="#16bdb6"/><rect x="67" y="39" width="3" height="1" fill="#48c687"/><rect x="70" y="39" width="1" height="1" fill="#76c862"/><rect x="71" y="39" width="1" height="1" fill="#48c687"/><rect x="72" y="39" width="4" height="1" fill="#16bdb6"/><rect x="76" y="39" width="1" height="1" fill="#14aade"/><rect x="77" y="39" width="4" height="1" fill="#2891f2"/><rect x="81" y="39" width="1" height="1" fill="#14aade"/><rect x="82" y="39" width="2" height="1" fill="#2891f2"/><rect x="84" y="39" width="1" height="1" fill="#3c70fc"/><rect x="85" y="39" width="3" height="1" fill="#4850ee"/><rect x="88" y="39" width="1" height="1" fill="#3c70fc"/><rect x="89" y="39" width="2" height="1" fill="#4438cd"/><rect x="92" y="39" width="1" height="1" fill="#4438cd"/><rect x="93" y="39" width="3" height="1" fill="#4850ee"/><rect x="96" y="39" width="1" height="1" fill="#4438cd"/><rect x="97" y="39" width="1" height="1" fill="#4850ee"/><rect x="34" y="38" width="1" height="1" fill="#4850ee"/><rect x="35" y="38" width="1" height="1" fill="#3c70fc"/><rect x="36" y="38" width="1" height="1" fill="#4850ee"/><rect x="42" y="38" width="1" height="1" fill="#4850ee"/><rect x="43" y="38" width="1" height="1" fill="#14aade"/><rect x="44" y="38" width="1" height="1" fill="#16bdb6"/><rect x="45" y="38" width="1" height="1" fill="#48c687"/><rect x="46" y="38" width="1" height="1" fill="#16bdb6"/><rect x="47" y="38" width="2" height="1" fill="#14aade"/><rect x="49" y="38" width="1" height="1" fill="#16bdb6"/><rect x="50" y="38" width="1" height="1" fill="#48c687"/><rect x="51" y="38" width="1" height="1" fill="#2891f2"/><rect x="52" y="38" width="1" height="1" fill="#14aade"/><rect x="53" y="38" width="1" height="1" fill="#16bdb6"/><rect x="54" y="38" width="1" height="1" fill="#2891f2"/><rect x="55" y="38" width="1" height="1" fill="#14aade"/><rect x="56" y="38" width="2" height="1" fill="#16bdb6"/><rect x="58" y="38" width="1" height="1" fill="#48c687"/><rect x="59" y="38" width="1" height="1" fill="#16bdb6"/><rect x="60" y="38" width="2" height="1" fill="#14aade"/><rect x="62" y="38" width="4" height="1" fill="#16bdb6"/><rect x="66" y="38" width="1" height="1" fill="#48c687"/><rect x="67" y="38" width="2" height="1" fill="#b9c13e"/><rect x="69" y="38" width="1" height="1" fill="#16bdb6"/><rect x="70" y="38" width="2" height="1" fill="#48c687"/><rect x="72" y="38" width="1" height="1" fill="#16bdb6"/><rect x="73" y="38" width="1" height="1" fill="#14aade"/><rect x="74" y="38" width="1" height="1" fill="#16bdb6"/><rect x="75" y="38" width="1" height="1" fill="#4850ee"/><rect x="76" y="38" width="2" height="1" fill="#2891f2"/><rect x="78" y="38" width="1" height="1" fill="#4438cd"/><rect x="79" y="38" width="1" height="1" fill="#3c70fc"/><rect x="80" y="38" width="4" height="1" fill="#2891f2"/><rect x="84" y="38" width="1" height="1" fill="#3c70fc"/><rect x="85" y="38" width="2" height="1" fill="#4850ee"/><rect x="87" y="38" width="1" height="1" fill="#4438cd"/><rect x="88" y="38" width="1" height="1" fill="#3c70fc"/><rect x="89" y="38" width="1" height="1" fill="#4850ee"/><rect x="90" y="38" width="1" height="1" fill="#4438cd"/><rect x="91" y="38" width="2" height="1" fill="#4850ee"/><rect x="93" y="38" width="4" height="1" fill="#4438cd"/><rect x="97" y="38" width="1" height="1" fill="#4850ee"/><rect x="35" y="37" width="1" height="1" fill="#4438cd"/><rect x="42" y="37" width="1" height="1" fill="#4850ee"/><rect x="43" y="37" width="1" height="1" fill="#14aade"/><rect x="44" y="37" width="2" height="1" fill="#48c687"/><rect x="46" y="37" width="1" height="1" fill="#16bdb6"/><rect x="47" y="37" width="2" height="1" fill="#14aade"/><rect x="49" y="37" width="1" height="1" fill="#16bdb6"/><rect x="50" y="37" width="1" height="1" fill="#14aade"/><rect x="51" y="37" width="2" height="1" fill="#2891f2"/><rect x="53" y="37" width="1" height="1" fill="#14aade"/><rect x="54" y="37" width="2" height="1" fill="#2891f2"/><rect x="56" y="37" width="1" height="1" fill="#16bdb6"/><rect x="57" y="37" width="1" height="1" fill="#76c862"/><rect x="58" y="37" width="1" height="1" fill="#48c687"/><rect x="59" y="37" width="2" height="1" fill="#16bdb6"/><rect x="61" y="37" width="1" height="1" fill="#14aade"/><rect x="62" y="37" width="2" height="1" fill="#16bdb6"/><rect x="64" y="37" width="1" height="1" fill="#48c687"/><rect x="65" y="37" width="1" height="1" fill="#16bdb6"/><rect x="66" y="37" width="2" height="1" fill="#76c862"/><rect x="68" y="37" width="1" height="1" fill="#b9c13e"/><rect x="69" y="37" width="4" height="1" fill="#16bdb6"/><rect x="73" y="37" width="2" height="1" fill="#14aade"/><rect x="75" y="37" width="2" height="1" fill="#2891f2"/><rect x="77" y="37" width="1" height="1" fill="#3c70fc"/><rect x="78" y="37" width="1" height="1" fill="#4438cd"/><rect x="79" y="37" width="1" height="1" fill="#3c70fc"/><rect x="80" y="37" width="1" height="1" fill="#2891f2"/><rect x="81" y="37" width="2" height="1" fill="#3c70fc"/><rect x="83" y="37" width="1" height="1" fill="#4850ee"/><rect x="84" y="37" width="2" height="1" fill="#4438cd"/><rect x="86" y="37" width="1" height="1" fill="#4850ee"/><rect x="88" y="37" width="2" height="1" fill="#4438cd"/><rect x="91" y="37" width="2" height="1" fill="#4850ee"/><rect x="93" y="37" width="1" height="1" fill="#4438cd"/><rect x="97" y="37" width="1" height="1" fill="#4438cd"/><rect x="42" y="36" width="1" height="1" fill="#4850ee"/><rect x="43" y="36" width="1" height="1" fill="#14aade"/><rect x="44" y="36" width="2" height="1" fill="#16bdb6"/><rect x="46" y="36" width="1" height="1" fill="#14aade"/><rect x="47" y="36" width="2" height="1" fill="#2891f2"/><rect x="49" y="36" width="2" height="1" fill="#14aade"/><rect x="51" y="36" width="2" height="1" fill="#3c70fc"/><rect x="53" y="36" width="2" height="1" fill="#2891f2"/><rect x="55" y="36" width="1" height="1" fill="#14aade"/><rect x="56" y="36" width="2" height="1" fill="#48c687"/><rect x="58" y="36" width="2" height="1" fill="#76c862"/><rect x="60" y="36" width="2" height="1" fill="#48c687"/><rect x="62" y="36" width="2" height="1" fill="#16bdb6"/><rect x="64" y="36" width="2" height="1" fill="#48c687"/><rect x="66" y="36" width="1" height="1" fill="#b9c13e"/><rect x="67" y="36" width="1" height="1" fill="#48c687"/><rect x="68" y="36" width="2" height="1" fill="#16bdb6"/><rect x="70" y="36" width="4" height="1" fill="#14aade"/><rect x="74" y="36" width="2" height="1" fill="#2891f2"/><rect x="76" y="36" width="2" height="1" fill="#3c70fc"/><rect x="78" y="36" width="1" height="1" fill="#4438cd"/><rect x="79" y="36" width="1" height="1" fill="#4850ee"/><rect x="80" y="36" width="1" height="1" fill="#2891f2"/><rect x="81" y="36" width="1" height="1" fill="#3c70fc"/><rect x="82" y="36" width="2" height="1" fill="#4850ee"/><rect x="42" y="35" width="1" height="1" fill="#4850ee"/><rect x="43" y="35" width="1" height="1" fill="#2891f2"/><rect x="44" y="35" width="2" height="1" fill="#14aade"/><rect x="46" y="35" width="1" height="1" fill="#2891f2"/><rect x="47" y="35" width="1" height="1" fill="#4850ee"/><rect x="48" y="35" width="1" height="1" fill="#3c70fc"/><rect x="49" y="35" width="2" height="1" fill="#2891f2"/><rect x="51" y="35" width="2" height="1" fill="#4850ee"/><rect x="53" y="35" width="3" height="1" fill="#2891f2"/><rect x="56" y="35" width="1" height="1" fill="#16bdb6"/><rect x="57" y="35" width="1" height="1" fill="#48c687"/><rect x="58" y="35" width="2" height="1" fill="#76c862"/><rect x="60" y="35" width="2" height="1" fill="#48c687"/><rect x="62" y="35" width="1" height="1" fill="#16bdb6"/><rect x="63" y="35" width="1" height="1" fill="#48c687"/><rect x="64" y="35" width="1" height="1" fill="#76c862"/><rect x="65" y="35" width="1" height="1" fill="#b9c13e"/><rect x="66" y="35" width="1" height="1" fill="#48c687"/><rect x="67" y="35" width="2" height="1" fill="#16bdb6"/><rect x="69" y="35" width="4" height="1" fill="#14aade"/><rect x="73" y="35" width="2" height="1" fill="#2891f2"/><rect x="75" y="35" width="3" height="1" fill="#3c70fc"/><rect x="78" y="35" width="2" height="1" fill="#4438cd"/><rect x="80" y="35" width="1" height="1" fill="#2891f2"/><rect x="81" y="35" width="2" height="1" fill="#4850ee"/><rect x="83" y="35" width="1" height="1" fill="#4438cd"/><rect x="42" y="34" width="1" height="1" fill="#4438cd"/><rect x="43" y="34" width="4" height="1" fill="#2891f2"/><rect x="47" y="34" width="2" height="1" fill="#4850ee"/><rect x="49" y="34" width="2" height="1" fill="#3c70fc"/><rect x="51" y="34" width="2" height="1" fill="#4850ee"/><rect x="53" y="34" width="1" height="1" fill="#3c70fc"/><rect x="54" y="34" width="1" height="1" fill="#2891f2"/><rect x="55" y="34" width="1" height="1" fill="#3c70fc"/><rect x="56" y="34" width="1" height="1" fill="#14aade"/><rect x="57" y="34" width="2" height="1" fill="#16bdb6"/><rect x="59" y="34" width="1" height="1" fill="#48c687"/><rect x="60" y="34" width="1" height="1" fill="#76c862"/><rect x="61" y="34" width="4" height="1" fill="#b9c13e"/><rect x="65" y="34" width="1" height="1" fill="#76c862"/><rect x="66" y="34" width="1" height="1" fill="#16bdb6"/><rect x="67" y="34" width="1" height="1" fill="#14aade"/><rect x="68" y="34" width="1" height="1" fill="#16bdb6"/><rect x="69" y="34" width="1" height="1" fill="#14aade"/><rect x="70" y="34" width="3" height="1" fill="#2891f2"/><rect x="73" y="34" width="1" height="1" fill="#14aade"/><rect x="74" y="34" width="1" height="1" fill="#2891f2"/><rect x="75" y="34" width="3" height="1" fill="#3c70fc"/><rect x="78" y="34" width="2" height="1" fill="#4438cd"/><rect x="80" y="34" width="1" height="1" fill="#2891f2"/><rect x="81" y="34" width="2" height="1" fill="#4850ee"/><rect x="83" y="34" width="1" height="1" fill="#4438cd"/><rect x="43" y="33" width="1" height="1" fill="#3c70fc"/><rect x="44" y="33" width="2" height="1" fill="#2891f2"/><rect x="46" y="33" width="1" height="1" fill="#3c70fc"/><rect x="47" y="33" width="2" height="1" fill="#4850ee"/><rect x="49" y="33" width="2" height="1" fill="#3c70fc"/><rect x="51" y="33" width="1" height="1" fill="#4850ee"/><rect x="53" y="33" width="3" height="1" fill="#3c70fc"/><rect x="56" y="33" width="1" height="1" fill="#2891f2"/><rect x="57" y="33" width="2" height="1" fill="#14aade"/><rect x="59" y="33" width="1" height="1" fill="#48c687"/><rect x="60" y="33" width="3" height="1" fill="#76c862"/><rect x="63" y="33" width="1" height="1" fill="#48c687"/><rect x="64" y="33" width="1" height="1" fill="#b9c13e"/><rect x="65" y="33" width="1" height="1" fill="#48c687"/><rect x="66" y="33" width="1" height="1" fill="#16bdb6"/><rect x="67" y="33" width="1" height="1" fill="#2891f2"/><rect x="68" y="33" width="1" height="1" fill="#14aade"/><rect x="69" y="33" width="2" height="1" fill="#2891f2"/><rect x="71" y="33" width="2" height="1" fill="#3c70fc"/><rect x="73" y="33" width="2" height="1" fill="#2891f2"/><rect x="75" y="33" width="2" height="1" fill="#3c70fc"/><rect x="77" y="33" width="1" height="1" fill="#4850ee"/><rect x="80" y="33" width="2" height="1" fill="#4850ee"/><rect x="82" y="33" width="2" height="1" fill="#4438cd"/><rect x="43" y="32" width="4" height="1" fill="#3c70fc"/><rect x="47" y="32" width="1" height="1" fill="#4438cd"/><rect x="48" y="32" width="1" height="1" fill="#4850ee"/><rect x="49" y="32" width="2" height="1" fill="#3c70fc"/><rect x="51" y="32" width="1" height="1" fill="#4438cd"/><rect x="53" y="32" width="3" height="1" fill="#3c70fc"/><rect x="56" y="32" width="2" height="1" fill="#2891f2"/><rect x="58" y="32" width="1" height="1" fill="#16bdb6"/><rect x="59" y="32" width="1" height="1" fill="#48c687"/><rect x="60" y="32" width="1" height="1" fill="#14aade"/><rect x="61" y="32" width="3" height="1" fill="#48c687"/><rect x="64" y="32" width="1" height="1" fill="#76c862"/><rect x="65" y="32" width="1" height="1" fill="#48c687"/><rect x="66" y="32" width="1" height="1" fill="#16bdb6"/><rect x="67" y="32" width="7" height="1" fill="#2891f2"/><rect x="74" y="32" width="2" height="1" fill="#3c70fc"/><rect x="76" y="32" width="1" height="1" fill="#4850ee"/><rect x="77" y="32" width="2" height="1" fill="#4438cd"/><rect x="80" y="32" width="2" height="1" fill="#4438cd"/><rect x="83" y="32" width="3" height="1" fill="#4438cd"/><rect x="43" y="31" width="1" height="1" fill="#4438cd"/><rect x="44" y="31" width="3" height="1" fill="#4850ee"/><rect x="47" y="31" width="2" height="1" fill="#4438cd"/><rect x="49" y="31" width="2" height="1" fill="#4850ee"/><rect x="51" y="31" width="1" height="1" fill="#4438cd"/><rect x="52" y="31" width="2" height="1" fill="#4850ee"/><rect x="54" y="31" width="2" height="1" fill="#3c70fc"/><rect x="56" y="31" width="1" height="1" fill="#2891f2"/><rect x="57" y="31" width="1" height="1" fill="#14aade"/><rect x="58" y="31" width="2" height="1" fill="#16bdb6"/><rect x="60" y="31" width="1" height="1" fill="#14aade"/><rect x="61" y="31" width="3" height="1" fill="#48c687"/><rect x="64" y="31" width="1" height="1" fill="#16bdb6"/><rect x="65" y="31" width="1" height="1" fill="#48c687"/><rect x="66" y="31" width="1" height="1" fill="#14aade"/><rect x="67" y="31" width="4" height="1" fill="#2891f2"/><rect x="71" y="31" width="1" height="1" fill="#3c70fc"/><rect x="72" y="31" width="2" height="1" fill="#2891f2"/><rect x="74" y="31" width="2" height="1" fill="#3c70fc"/><rect x="76" y="31" width="1" height="1" fill="#4438cd"/><rect x="91" y="31" width="2" height="1" fill="#4438cd"/><rect x="94" y="31" width="1" height="1" fill="#4438cd"/><rect x="44" y="30" width="3" height="1" fill="#4850ee"/><rect x="49" y="30" width="1" height="1" fill="#4438cd"/><rect x="50" y="30" width="1" height="1" fill="#4850ee"/><rect x="52" y="30" width="1" height="1" fill="#4438cd"/><rect x="53" y="30" width="1" height="1" fill="#4850ee"/><rect x="54" y="30" width="1" height="1" fill="#3c70fc"/><rect x="55" y="30" width="1" height="1" fill="#4438cd"/><rect x="56" y="30" width="1" height="1" fill="#3c70fc"/><rect x="57" y="30" width="2" height="1" fill="#14aade"/><rect x="59" y="30" width="1" height="1" fill="#2891f2"/><rect x="60" y="30" width="1" height="1" fill="#14aade"/><rect x="61" y="30" width="3" height="1" fill="#16bdb6"/><rect x="64" y="30" width="1" height="1" fill="#14aade"/><rect x="65" y="30" width="5" height="1" fill="#2891f2"/><rect x="70" y="30" width="1" height="1" fill="#3c70fc"/><rect x="71" y="30" width="2" height="1" fill="#2891f2"/><rect x="73" y="30" width="1" height="1" fill="#4850ee"/><rect x="74" y="30" width="1" height="1" fill="#2891f2"/><rect x="75" y="30" width="1" height="1" fill="#3c70fc"/><rect x="76" y="30" width="1" height="1" fill="#4850ee"/><rect x="89" y="30" width="1" height="1" fill="#4438cd"/><rect x="91" y="30" width="1" height="1" fill="#4850ee"/><rect x="92" y="30" width="1" height="1" fill="#3c70fc"/><rect x="93" y="30" width="1" height="1" fill="#4438cd"/><rect x="94" y="30" width="2" height="1" fill="#4850ee"/><rect x="44" y="29" width="1" height="1" fill="#4438cd"/><rect x="45" y="29" width="1" height="1" fill="#4850ee"/><rect x="50" y="29" width="1" height="1" fill="#4438cd"/><rect x="53" y="29" width="1" height="1" fill="#4438cd"/><rect x="54" y="29" width="1" height="1" fill="#4850ee"/><rect x="55" y="29" width="1" height="1" fill="#4438cd"/><rect x="56" y="29" width="1" height="1" fill="#4850ee"/><rect x="57" y="29" width="1" height="1" fill="#3c70fc"/><rect x="58" y="29" width="2" height="1" fill="#2891f2"/><rect x="60" y="29" width="3" height="1" fill="#14aade"/><rect x="63" y="29" width="1" height="1" fill="#2891f2"/><rect x="64" y="29" width="1" height="1" fill="#14aade"/><rect x="65" y="29" width="3" height="1" fill="#2891f2"/><rect x="68" y="29" width="5" height="1" fill="#3c70fc"/><rect x="73" y="29" width="1" height="1" fill="#4850ee"/><rect x="74" y="29" width="2" height="1" fill="#4438cd"/><rect x="92" y="29" width="2" height="1" fill="#4438cd"/><rect x="44" y="28" width="1" height="1" fill="#4850ee"/><rect x="45" y="28" width="1" height="1" fill="#3c70fc"/><rect x="50" y="28" width="3" height="1" fill="#4438cd"/><rect x="53" y="28" width="3" height="1" fill="#4850ee"/><rect x="56" y="28" width="1" height="1" fill="#3c70fc"/><rect x="57" y="28" width="3" height="1" fill="#2891f2"/><rect x="60" y="28" width="3" height="1" fill="#14aade"/><rect x="63" y="28" width="3" height="1" fill="#2891f2"/><rect x="66" y="28" width="1" height="1" fill="#14aade"/><rect x="67" y="28" width="1" height="1" fill="#2891f2"/><rect x="68" y="28" width="3" height="1" fill="#3c70fc"/><rect x="71" y="28" width="1" height="1" fill="#4850ee"/><rect x="72" y="28" width="1" height="1" fill="#4438cd"/><rect x="73" y="28" width="1" height="1" fill="#3c70fc"/><rect x="44" y="27" width="1" height="1" fill="#4438cd"/><rect x="45" y="27" width="1" height="1" fill="#4850ee"/><rect x="50" y="27" width="1" height="1" fill="#4438cd"/><rect x="52" y="27" width="1" height="1" fill="#4438cd"/><rect x="53" y="27" width="2" height="1" fill="#4850ee"/><rect x="55" y="27" width="1" height="1" fill="#3c70fc"/><rect x="56" y="27" width="3" height="1" fill="#2891f2"/><rect x="59" y="27" width="8" height="1" fill="#14aade"/><rect x="67" y="27" width="1" height="1" fill="#2891f2"/><rect x="68" y="27" width="1" height="1" fill="#3c70fc"/><rect x="69" y="27" width="2" height="1" fill="#4850ee"/><rect x="71" y="27" width="1" height="1" fill="#4438cd"/><rect x="45" y="26" width="2" height="1" fill="#4438cd"/><rect x="49" y="26" width="1" height="1" fill="#4850ee"/><rect x="50" y="26" width="1" height="1" fill="#4438cd"/><rect x="52" y="26" width="1" height="1" fill="#4438cd"/><rect x="53" y="26" width="1" height="1" fill="#4850ee"/><rect x="54" y="26" width="1" height="1" fill="#3c70fc"/><rect x="55" y="26" width="1" height="1" fill="#2891f2"/><rect x="56" y="26" width="9" height="1" fill="#14aade"/><rect x="65" y="26" width="1" height="1" fill="#16bdb6"/><rect x="66" y="26" width="1" height="1" fill="#14aade"/><rect x="67" y="26" width="2" height="1" fill="#2891f2"/><rect x="69" y="26" width="3" height="1" fill="#4850ee"/><rect x="72" y="26" width="1" height="1" fill="#4438cd"/><rect x="45" y="25" width="1" height="1" fill="#4438cd"/><rect x="46" y="25" width="1" height="1" fill="#4850ee"/><rect x="49" y="25" width="3" height="1" fill="#4438cd"/><rect x="52" y="25" width="1" height="1" fill="#4850ee"/><rect x="53" y="25" width="1" height="1" fill="#3c70fc"/><rect x="54" y="25" width="1" height="1" fill="#2891f2"/><rect x="55" y="25" width="1" height="1" fill="#14aade"/><rect x="56" y="25" width="1" height="1" fill="#16bdb6"/><rect x="57" y="25" width="1" height="1" fill="#14aade"/><rect x="58" y="25" width="5" height="1" fill="#16bdb6"/><rect x="63" y="25" width="4" height="1" fill="#14aade"/><rect x="67" y="25" width="2" height="1" fill="#2891f2"/><rect x="69" y="25" width="1" height="1" fill="#3c70fc"/><rect x="70" y="25" width="3" height="1" fill="#4850ee"/><rect x="73" y="25" width="1" height="1" fill="#4438cd"/><rect x="45" y="24" width="3" height="1" fill="#4850ee"/><rect x="48" y="24" width="2" height="1" fill="#4438cd"/><rect x="50" y="24" width="3" height="1" fill="#3c70fc"/><rect x="53" y="24" width="1" height="1" fill="#2891f2"/><rect x="54" y="24" width="2" height="1" fill="#14aade"/><rect x="56" y="24" width="1" height="1" fill="#16bdb6"/><rect x="57" y="24" width="5" height="1" fill="#48c687"/><rect x="62" y="24" width="2" height="1" fill="#16bdb6"/><rect x="64" y="24" width="3" height="1" fill="#14aade"/><rect x="67" y="24" width="2" height="1" fill="#2891f2"/><rect x="69" y="24" width="1" height="1" fill="#3c70fc"/><rect x="70" y="24" width="2" height="1" fill="#4850ee"/><rect x="72" y="24" width="2" height="1" fill="#4438cd"/><rect x="43" y="23" width="2" height="1" fill="#4438cd"/><rect x="45" y="23" width="2" height="1" fill="#3c70fc"/><rect x="47" y="23" width="3" height="1" fill="#4850ee"/><rect x="50" y="23" width="1" height="1" fill="#3c70fc"/><rect x="51" y="23" width="1" height="1" fill="#4850ee"/><rect x="52" y="23" width="1" height="1" fill="#3c70fc"/><rect x="53" y="23" width="2" height="1" fill="#2891f2"/><rect x="55" y="23" width="1" height="1" fill="#14aade"/><rect x="56" y="23" width="1" height="1" fill="#16bdb6"/><rect x="57" y="23" width="2" height="1" fill="#48c687"/><rect x="59" y="23" width="3" height="1" fill="#76c862"/><rect x="62" y="23" width="1" height="1" fill="#48c687"/><rect x="63" y="23" width="2" height="1" fill="#16bdb6"/><rect x="65" y="23" width="2" height="1" fill="#14aade"/><rect x="67" y="23" width="2" height="1" fill="#2891f2"/><rect x="69" y="23" width="4" height="1" fill="#3c70fc"/><rect x="73" y="23" width="2" height="1" fill="#4438cd"/><rect x="43" y="22" width="2" height="1" fill="#4438cd"/><rect x="45" y="22" width="3" height="1" fill="#3c70fc"/><rect x="48" y="22" width="1" height="1" fill="#4850ee"/><rect x="49" y="22" width="2" height="1" fill="#3c70fc"/><rect x="51" y="22" width="1" height="1" fill="#4850ee"/><rect x="52" y="22" width="2" height="1" fill="#3c70fc"/><rect x="54" y="22" width="2" height="1" fill="#2891f2"/><rect x="56" y="22" width="2" height="1" fill="#14aade"/><rect x="58" y="22" width="2" height="1" fill="#16bdb6"/><rect x="60" y="22" width="4" height="1" fill="#48c687"/><rect x="64" y="22" width="1" height="1" fill="#16bdb6"/><rect x="65" y="22" width="3" height="1" fill="#14aade"/><rect x="68" y="22" width="2" height="1" fill="#2891f2"/><rect x="70" y="22" width="3" height="1" fill="#3c70fc"/><rect x="73" y="22" width="1" height="1" fill="#4850ee"/><rect x="74" y="22" width="1" height="1" fill="#4438cd"/><rect x="76" y="22" width="1" height="1" fill="#4850ee"/><rect x="45" y="21" width="4" height="1" fill="#4438cd"/><rect x="49" y="21" width="1" height="1" fill="#4850ee"/><rect x="50" y="21" width="4" height="1" fill="#3c70fc"/><rect x="54" y="21" width="2" height="1" fill="#2891f2"/><rect x="56" y="21" width="3" height="1" fill="#14aade"/><rect x="59" y="21" width="2" height="1" fill="#16bdb6"/><rect x="61" y="21" width="4" height="1" fill="#48c687"/><rect x="65" y="21" width="2" height="1" fill="#16bdb6"/><rect x="67" y="21" width="2" height="1" fill="#14aade"/><rect x="69" y="21" width="2" height="1" fill="#2891f2"/><rect x="71" y="21" width="1" height="1" fill="#3c70fc"/><rect x="72" y="21" width="1" height="1" fill="#4850ee"/><rect x="73" y="21" width="1" height="1" fill="#3c70fc"/><rect x="74" y="21" width="1" height="1" fill="#4850ee"/><rect x="75" y="21" width="2" height="1" fill="#4438cd"/><rect x="89" y="21" width="3" height="1" fill="#4438cd"/><rect x="48" y="20" width="2" height="1" fill="#4850ee"/><rect x="50" y="20" width="1" height="1" fill="#3c70fc"/><rect x="51" y="20" width="2" height="1" fill="#4850ee"/><rect x="53" y="20" width="2" height="1" fill="#3c70fc"/><rect x="55" y="20" width="1" height="1" fill="#2891f2"/><rect x="56" y="20" width="2" height="1" fill="#14aade"/><rect x="58" y="20" width="5" height="1" fill="#16bdb6"/><rect x="63" y="20" width="3" height="1" fill="#48c687"/><rect x="66" y="20" width="1" height="1" fill="#16bdb6"/><rect x="67" y="20" width="2" height="1" fill="#14aade"/><rect x="69" y="20" width="2" height="1" fill="#2891f2"/><rect x="71" y="20" width="3" height="1" fill="#3c70fc"/><rect x="74" y="20" width="1" height="1" fill="#4850ee"/><rect x="75" y="20" width="2" height="1" fill="#4438cd"/><rect x="88" y="20" width="1" height="1" fill="#4850ee"/><rect x="89" y="20" width="1" height="1" fill="#3c70fc"/><rect x="90" y="20" width="1" height="1" fill="#4850ee"/><rect x="91" y="20" width="1" height="1" fill="#4438cd"/><rect x="48" y="19" width="1" height="1" fill="#4850ee"/><rect x="49" y="19" width="1" height="1" fill="#3c70fc"/><rect x="50" y="19" width="1" height="1" fill="#2891f2"/><rect x="51" y="19" width="3" height="1" fill="#3c70fc"/><rect x="54" y="19" width="1" height="1" fill="#2891f2"/><rect x="55" y="19" width="1" height="1" fill="#14aade"/><rect x="56" y="19" width="3" height="1" fill="#16bdb6"/><rect x="59" y="19" width="1" height="1" fill="#48c687"/><rect x="60" y="19" width="14" height="1" fill="#14aade"/><rect x="74" y="19" width="2" height="1" fill="#2891f2"/><rect x="76" y="19" width="1" height="1" fill="#3c70fc"/><rect x="77" y="19" width="1" height="1" fill="#4850ee"/><rect x="78" y="19" width="1" height="1" fill="#4438cd"/><rect x="88" y="19" width="1" height="1" fill="#4850ee"/><rect x="89" y="19" width="1" height="1" fill="#3c70fc"/><rect x="90" y="19" width="1" height="1" fill="#4850ee"/><rect x="91" y="19" width="2" height="1" fill="#4438cd"/><rect x="46" y="18" width="1" height="1" fill="#4438cd"/><rect x="48" y="18" width="1" height="1" fill="#4850ee"/><rect x="49" y="18" width="1" height="1" fill="#3c70fc"/><rect x="50" y="18" width="1" height="1" fill="#2891f2"/><rect x="51" y="18" width="1" height="1" fill="#4850ee"/><rect x="52" y="18" width="2" height="1" fill="#2891f2"/><rect x="54" y="18" width="1" height="1" fill="#3c70fc"/><rect x="55" y="18" width="1" height="1" fill="#2891f2"/><rect x="56" y="18" width="1" height="1" fill="#16bdb6"/><rect x="57" y="18" width="3" height="1" fill="#48c687"/><rect x="60" y="18" width="4" height="1" fill="#16bdb6"/><rect x="64" y="18" width="2" height="1" fill="#14aade"/><rect x="66" y="18" width="3" height="1" fill="#16bdb6"/><rect x="69" y="18" width="5" height="1" fill="#14aade"/><rect x="74" y="18" width="2" height="1" fill="#2891f2"/><rect x="76" y="18" width="1" height="1" fill="#3c70fc"/><rect x="77" y="18" width="1" height="1" fill="#4850ee"/><rect x="78" y="18" width="2" height="1" fill="#4438cd"/><rect x="88" y="18" width="1" height="1" fill="#4438cd"/><rect x="89" y="18" width="1" height="1" fill="#4850ee"/><rect x="90" y="18" width="1" height="1" fill="#3c70fc"/><rect x="91" y="18" width="2" height="1" fill="#4438cd"/><rect x="44" y="17" width="1" height="1" fill="#4438cd"/><rect x="49" y="17" width="1" height="1" fill="#4438cd"/><rect x="50" y="17" width="1" height="1" fill="#4850ee"/><rect x="51" y="17" width="1" height="1" fill="#4438cd"/><rect x="52" y="17" width="1" height="1" fill="#4850ee"/><rect x="53" y="17" width="2" height="1" fill="#3c70fc"/><rect x="55" y="17" width="1" height="1" fill="#2891f2"/><rect x="56" y="17" width="4" height="1" fill="#16bdb6"/><rect x="60" y="17" width="4" height="1" fill="#48c687"/><rect x="64" y="17" width="10" height="1" fill="#16bdb6"/><rect x="74" y="17" width="1" height="1" fill="#14aade"/><rect x="75" y="17" width="2" height="1" fill="#2891f2"/><rect x="77" y="17" width="1" height="1" fill="#3c70fc"/><rect x="78" y="17" width="2" height="1" fill="#4850ee"/><rect x="80" y="17" width="1" height="1" fill="#4438cd"/><rect x="89" y="17" width="2" height="1" fill="#4438cd"/><rect x="44" y="16" width="2" height="1" fill="#4438cd"/><rect x="50" y="16" width="1" height="1" fill="#4438cd"/><rect x="54" y="16" width="1" height="1" fill="#4850ee"/><rect x="55" y="16" width="1" height="1" fill="#3c70fc"/><rect x="56" y="16" width="4" height="1" fill="#14aade"/><rect x="60" y="16" width="2" height="1" fill="#48c687"/><rect x="62" y="16" width="5" height="1" fill="#5fc774"/><rect x="67" y="16" width="6" height="1" fill="#48c687"/><rect x="73" y="16" width="1" height="1" fill="#16bdb6"/><rect x="74" y="16" width="1" height="1" fill="#14aade"/><rect x="75" y="16" width="2" height="1" fill="#2891f2"/><rect x="77" y="16" width="2" height="1" fill="#3c70fc"/><rect x="79" y="16" width="2" height="1" fill="#4850ee"/><rect x="81" y="16" width="1" height="1" fill="#4438cd"/><rect x="88" y="16" width="2" height="1" fill="#4438cd"/><rect x="55" y="15" width="1" height="1" fill="#4438cd"/><rect x="56" y="15" width="1" height="1" fill="#2891f2"/><rect x="57" y="15" width="3" height="1" fill="#14aade"/><rect x="60" y="15" width="3" height="1" fill="#48c687"/><rect x="63" y="15" width="1" height="1" fill="#16bdb6"/><rect x="64" y="15" width="10" height="1" fill="#48c687"/><rect x="74" y="15" width="1" height="1" fill="#16bdb6"/><rect x="75" y="15" width="1" height="1" fill="#14aade"/><rect x="76" y="15" width="1" height="1" fill="#2891f2"/><rect x="77" y="15" width="3" height="1" fill="#3c70fc"/><rect x="80" y="15" width="1" height="1" fill="#4850ee"/><rect x="81" y="15" width="2" height="1" fill="#4438cd"/><rect x="88" y="15" width="1" height="1" fill="#4438cd"/><rect x="89" y="15" width="1" height="1" fill="#3c70fc"/><rect x="90" y="15" width="2" height="1" fill="#4438cd"/><rect x="50" y="14" width="1" height="1" fill="#4850ee"/><rect x="55" y="14" width="1" height="1" fill="#4438cd"/><rect x="56" y="14" width="1" height="1" fill="#3c70fc"/><rect x="57" y="14" width="1" height="1" fill="#2891f2"/><rect x="58" y="14" width="1" height="1" fill="#14aade"/><rect x="59" y="14" width="1" height="1" fill="#16bdb6"/><rect x="60" y="14" width="3" height="1" fill="#48c687"/><rect x="63" y="14" width="4" height="1" fill="#16bdb6"/><rect x="67" y="14" width="6" height="1" fill="#48c687"/><rect x="73" y="14" width="1" height="1" fill="#16bdb6"/><rect x="74" y="14" width="2" height="1" fill="#14aade"/><rect x="76" y="14" width="1" height="1" fill="#2891f2"/><rect x="77" y="14" width="3" height="1" fill="#3c70fc"/><rect x="80" y="14" width="1" height="1" fill="#4850ee"/><rect x="81" y="14" width="1" height="1" fill="#4438cd"/><rect x="82" y="14" width="1" height="1" fill="#4850ee"/><rect x="88" y="14" width="1" height="1" fill="#4438cd"/><rect x="89" y="14" width="2" height="1" fill="#4850ee"/><rect x="91" y="14" width="1" height="1" fill="#4438cd"/><rect x="56" y="13" width="1" height="1" fill="#4850ee"/><rect x="57" y="13" width="1" height="1" fill="#3c70fc"/><rect x="58" y="13" width="1" height="1" fill="#2891f2"/><rect x="59" y="13" width="1" height="1" fill="#14aade"/><rect x="60" y="13" width="1" height="1" fill="#16bdb6"/><rect x="61" y="13" width="2" height="1" fill="#48c687"/><rect x="63" y="13" width="3" height="1" fill="#16bdb6"/><rect x="66" y="13" width="9" height="1" fill="#14aade"/><rect x="75" y="13" width="1" height="1" fill="#2891f2"/><rect x="76" y="13" width="2" height="1" fill="#3c70fc"/><rect x="78" y="13" width="1" height="1" fill="#4850ee"/><rect x="79" y="13" width="4" height="1" fill="#4438cd"/><rect x="89" y="13" width="2" height="1" fill="#4850ee"/><rect x="91" y="13" width="1" height="1" fill="#4438cd"/><rect x="56" y="12" width="2" height="1" fill="#4438cd"/><rect x="58" y="12" width="1" height="1" fill="#4850ee"/><rect x="59" y="12" width="1" height="1" fill="#3c70fc"/><rect x="60" y="12" width="1" height="1" fill="#2891f2"/><rect x="61" y="12" width="6" height="1" fill="#16bdb6"/><rect x="67" y="12" width="2" height="1" fill="#14aade"/><rect x="69" y="12" width="3" height="1" fill="#2891f2"/><rect x="72" y="12" width="2" height="1" fill="#14aade"/><rect x="74" y="12" width="2" height="1" fill="#2891f2"/><rect x="76" y="12" width="1" height="1" fill="#3c70fc"/><rect x="77" y="12" width="1" height="1" fill="#4850ee"/><rect x="78" y="12" width="1" height="1" fill="#4438cd"/><rect x="88" y="12" width="2" height="1" fill="#4850ee"/><rect x="90" y="12" width="1" height="1" fill="#4438cd"/><rect x="91" y="12" width="1" height="1" fill="#4850ee"/><rect x="58" y="11" width="1" height="1" fill="#4850ee"/><rect x="59" y="11" width="1" height="1" fill="#3c70fc"/><rect x="60" y="11" width="1" height="1" fill="#4850ee"/><rect x="61" y="11" width="2" height="1" fill="#2891f2"/><rect x="63" y="11" width="1" height="1" fill="#14aade"/><rect x="64" y="11" width="2" height="1" fill="#16bdb6"/><rect x="66" y="11" width="2" height="1" fill="#48c687"/><rect x="68" y="11" width="6" height="1" fill="#14aade"/><rect x="74" y="11" width="2" height="1" fill="#2891f2"/><rect x="76" y="11" width="1" height="1" fill="#3c70fc"/><rect x="77" y="11" width="1" height="1" fill="#4850ee"/><rect x="88" y="11" width="1" height="1" fill="#4850ee"/><rect x="89" y="11" width="1" height="1" fill="#3c70fc"/><rect x="90" y="11" width="1" height="1" fill="#4850ee"/><rect x="60" y="10" width="1" height="1" fill="#4438cd"/><rect x="61" y="10" width="2" height="1" fill="#3c70fc"/><rect x="63" y="10" width="1" height="1" fill="#2891f2"/><rect x="64" y="10" width="1" height="1" fill="#14aade"/><rect x="65" y="10" width="9" height="1" fill="#16bdb6"/><rect x="74" y="10" width="2" height="1" fill="#2891f2"/><rect x="76" y="10" width="1" height="1" fill="#3c70fc"/><rect x="77" y="10" width="1" height="1" fill="#4850ee"/><rect x="88" y="10" width="3" height="1" fill="#4438cd"/><rect x="61" y="9" width="1" height="1" fill="#4438cd"/><rect x="62" y="9" width="1" height="1" fill="#4850ee"/><rect x="63" y="9" width="1" height="1" fill="#3c70fc"/><rect x="64" y="9" width="13" height="1" fill="#2891f2"/><rect x="77" y="9" width="1" height="1" fill="#4850ee"/><rect x="62" y="8" width="1" height="1" fill="#4438cd"/><rect x="63" y="8" width="1" height="1" fill="#3c70fc"/><rect x="64" y="8" width="2" height="1" fill="#2891f2"/><rect x="66" y="8" width="1" height="1" fill="#3c70fc"/><rect x="67" y="8" width="1" height="1" fill="#2891f2"/><rect x="68" y="8" width="2" height="1" fill="#3c70fc"/><rect x="70" y="8" width="3" height="1" fill="#2891f2"/><rect x="73" y="8" width="3" height="1" fill="#3c70fc"/><rect x="76" y="8" width="1" height="1" fill="#4850ee"/><rect x="63" y="7" width="6" height="1" fill="#3c70fc"/><rect x="69" y="7" width="2" height="1" fill="#4850ee"/><rect x="71" y="7" width="2" height="1" fill="#3c70fc"/><rect x="73" y="7" width="3" height="1" fill="#4850ee"/><rect x="63" y="6" width="1" height="1" fill="#4438cd"/><rect x="64" y="6" width="3" height="1" fill="#4850ee"/><rect x="67" y="6" width="1" height="1" fill="#3c70fc"/><rect x="68" y="6" width="3" height="1" fill="#4850ee"/><rect x="71" y="6" width="4" height="1" fill="#3c70fc"/><rect x="75" y="6" width="1" height="1" fill="#4850ee"/><rect x="64" y="5" width="1" height="1" fill="#4438cd"/><rect x="65" y="5" width="3" height="1" fill="#4850ee"/><rect x="68" y="5" width="1" height="1" fill="#4438cd"/><rect x="71" y="5" width="1" height="1" fill="#4438cd"/><rect x="64" y="4" width="1" height="1" fill="#4438cd"/><rect x="65" y="4" width="1" height="1" fill="#4850ee"/><rect x="64" y="3" width="1" height="1" fill="#4438cd"/><rect x="65" y="3" width="1" height="1" fill="#4850ee"/></svg>
<g stroke="#d8d8d8" stroke-opacity="0.8" stroke-width="1" stroke-dasharray="3,6" fill="none"><path d="M50.5 321.5V518"/><path d="M148.5 321.5V518"/><path d="M246.5 321.5V518"/><path d="M344.5 321.5V518"/><path d="M442.5 321.5V518"/><path d="M48 517.5H527.5"/><path d="M48 438.5H527.5"/><path d="M48 359.5H527.5"/></g>
<rect x="48" y="519" width="481" height="1" fill="#c8c8c8"/>
<rect x="48" y="520" width="481" height="1" fill="#0e0e0e"/>
<rect x="528" y="321" width="1" height="199" fill="#c8c8c8"/>
<g fill="#ababab" font-size="13" stroke="#ababab" stroke-width="0.3"><text x="43" y="520.2" text-anchor="end">0</text><text x="43" y="441.2" text-anchor="end">20</text><text x="43" y="362.2" text-anchor="end">40</text><text x="50.5" y="536.3" text-anchor="middle">0</text><text x="148.5" y="536.3" text-anchor="middle">20</text><text x="246.5" y="536.3" text-anchor="middle">40</text><text x="344.5" y="536.3" text-anchor="middle">60</text><text x="442.5" y="536.3" text-anchor="middle">80</text></g>
<text x="288" y="549.8" font-size="13" fill="#f2f2f2" stroke="#f2f2f2" stroke-width="0.45" text-anchor="middle">Frames</text>
<text transform="translate(18.9,419.8) rotate(-90)" font-size="13" fill="#f2f2f2" stroke="#f2f2f2" stroke-width="0.3" text-anchor="middle">Bark Bands</text>
<defs><linearGradient id="cb" x1="0" y1="1" x2="0" y2="0"><stop offset="0.000" stop-color="#3e26a8"/><stop offset="0.060" stop-color="#4433cc"/><stop offset="0.125" stop-color="#484cf0"/><stop offset="0.200" stop-color="#4068fd"/><stop offset="0.250" stop-color="#2e87f7"/><stop offset="0.320" stop-color="#1e9ee8"/><stop offset="0.375" stop-color="#12b1d6"/><stop offset="0.450" stop-color="#0abbc0"/><stop offset="0.500" stop-color="#2ec29e"/><stop offset="0.570" stop-color="#50c580"/><stop offset="0.640" stop-color="#8cc658"/><stop offset="0.710" stop-color="#bcbe3c"/><stop offset="0.780" stop-color="#dcb636"/><stop offset="0.850" stop-color="#fbb836"/><stop offset="0.920" stop-color="#f6cf2a"/><stop offset="0.960" stop-color="#f2e420"/><stop offset="1.000" stop-color="#f9fb0e"/></linearGradient></defs>
<rect x="537" y="321" width="27" height="198" fill="url(#cb)"/>
<rect x="558" y="399" width="5" height="1" fill="#a0a0a0"/>
<text x="567.5" y="404" font-size="13" fill="#b4b4b4" stroke="#b4b4b4" stroke-width="0.3">0</text>
<text transform="translate(593.2,419.8) rotate(-90)" font-size="13" fill="#f2f2f2" stroke="#f2f2f2" stroke-width="0.2" text-anchor="middle">Power per band (dB/Band)</text>
<rect x="0" y="0" width="1" height="280" fill="#b4b4a6"/>
<rect x="0" y="280" width="1" height="280" fill="#7c7c7c"/>
<rect x="1" y="59" width="1" height="199" fill="#1e1e1e"/>
</svg></body></html>
